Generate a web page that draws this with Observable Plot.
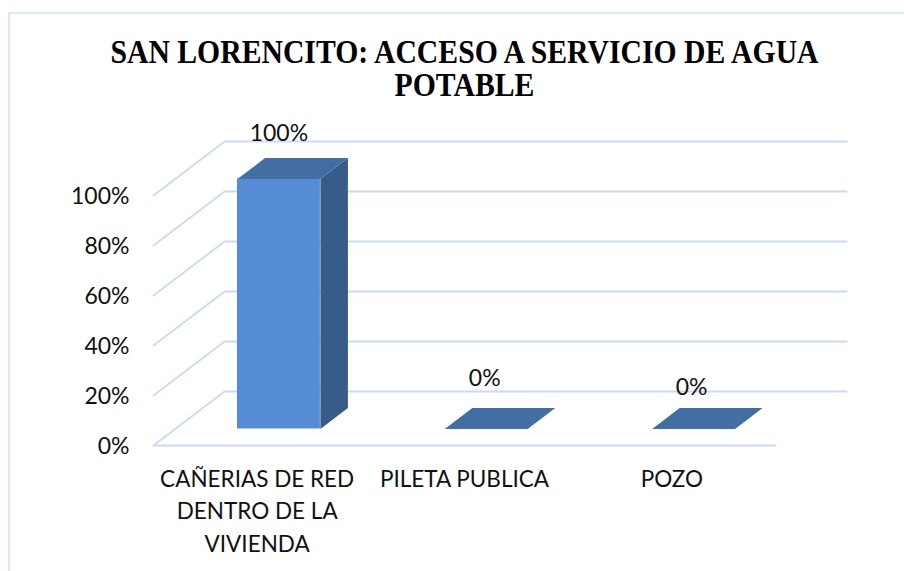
<!DOCTYPE html>
<html lang="es">
<head>
<meta charset="utf-8">
<script src="https://cdn.jsdelivr.net/npm/d3@7"></script>
<script src="https://cdn.jsdelivr.net/npm/@observablehq/plot@0.6"></script>
<style>
  html, body { margin: 0; padding: 0; background: #fff; overflow: hidden; width: 904px; height: 571px; }
  #frame { position: absolute; left: 8px; top: 12px; width: 900px; height: 570px;
           border-left: 2px solid #dbe7f6; border-top: 2px solid #dbe7f6; }
  #title { position: absolute; left: 0; top: 36px; width: 929px; text-align: center;
           font: bold 33px/33px "Liberation Serif", serif; color: #000;
           transform: scaleX(0.9); transform-origin: 464.5px 0; }
  #chart { position: absolute; left: 0; top: 105px; }
  #chart svg { display: block; }
</style>
</head>
<body>
<div id="frame"></div>
<div id="title">SAN LORENCITO: ACCESO A SERVICIO DE AGUA<br>POTABLE</div>
<div id="chart"></div>
<script>
const categories = ["CAÑERIAS DE RED\nDENTRO DE LA\nVIVIENDA", "PILETA PUBLICA", "POZO"];
const values = [100, 0, 0];
const valueLabels = ["100%", "0%", "0%"];
const yTicks = [0, 20, 40, 60, 80, 100];

// 3-D projection of the original chart: depth z (0 = front, 1 = back wall)
const depthX = 0.343, depthY = 21.6;
const barHalf = 0.2, barZ0 = 0.306, barZ1 = 0.693;
const px = (c, z) => c + z * depthX;
const py = (v, z) => v + z * depthY;

const grid = "#c9dbf2", font = "Lato, Carlito, sans-serif";
const xMin = -0.5, xMax = 2.5;

const wallLines = yTicks.map((v) => [
  {x: px(xMin, 0), y: py(v, 0), v},
  {x: px(xMin, 1), y: py(v, 1), v},
  {x: px(xMax, 1), y: py(v, 1), v}
]).flat();
const floorLine = [{x: xMin, y: 0}, {x: xMax, y: 0}];

const corners = (c, v) => ({
  x0: px(c - barHalf, barZ0), x1: px(c + barHalf, barZ0),
  y0: py(0, barZ0), y1: py(v, barZ0)
});
const sideFaces = [], topFaces = [];
values.forEach((v, c) => {
  if (v > 0) {
    [[c + barHalf, 0, barZ0], [c + barHalf, v, barZ0], [c + barHalf, v, barZ1], [c + barHalf, 0, barZ1]]
      .forEach(([a, b, z]) => sideFaces.push({c, x: px(a, z), y: py(b, z)}));
  }
  [[c - barHalf, barZ0], [c + barHalf, barZ0], [c + barHalf, barZ1], [c - barHalf, barZ1]]
    .forEach(([a, z]) => topFaces.push({c, x: px(a, z), y: py(v, z)}));
});
const labelNudge = [-45.5, -50.5, -41.5];
const labelShift = [0, -1.5, -2];

const chart = Plot.plot({
  width: 904, height: 466,
  marginLeft: 153, marginRight: 129, marginTop: 90, marginBottom: 126,
  x: {domain: [xMin, xMax], axis: null},
  y: {domain: [0, 100], axis: null},
  style: {fontFamily: font, background: "transparent", overflow: "visible"},
  marks: [
    Plot.line(wallLines, {x: "x", y: "y", z: "v", stroke: grid, strokeWidth: 1.8}),
    Plot.line(floorLine, {x: "x", y: "y", stroke: grid, strokeWidth: 1.8}),
    Plot.axisY({ticks: yTicks, tickFormat: (d) => d + "%", tickSize: 0, tickPadding: 24, dy: 1.5,
                fontSize: 23, fill: "#111", anchor: "left", label: null}),
    Plot.axisX({ticks: [0, 1, 2], tickFormat: (i) => categories[i], tickSize: 0, tickPadding: 18.5,
                fontSize: 22.5, fill: "#111", lineHeight: 1.44, label: null}),
    Plot.rect(values.map((v, c) => corners(c, v)), {x1: "x0", x2: "x1", y1: "y0", y2: "y1", fill: "#568cd5"}),
    Plot.line(sideFaces, {x: "x", y: "y", z: "c", fill: "#375c8a", stroke: "none"}),
    Plot.line(topFaces, {x: "x", y: "y", z: "c", fill: "#426ea3", stroke: "none"}),
    ...values.map((v, c) => Plot.text([valueLabels[c]], {
      x: px(c, barZ0), y: py(v, barZ0), dx: labelShift[c], dy: labelNudge[c],
      text: (d) => d, fontSize: 23, fill: "#111"
    }))
  ]
});
document.getElementById("chart").append(chart);
</script>
</body>
</html>
